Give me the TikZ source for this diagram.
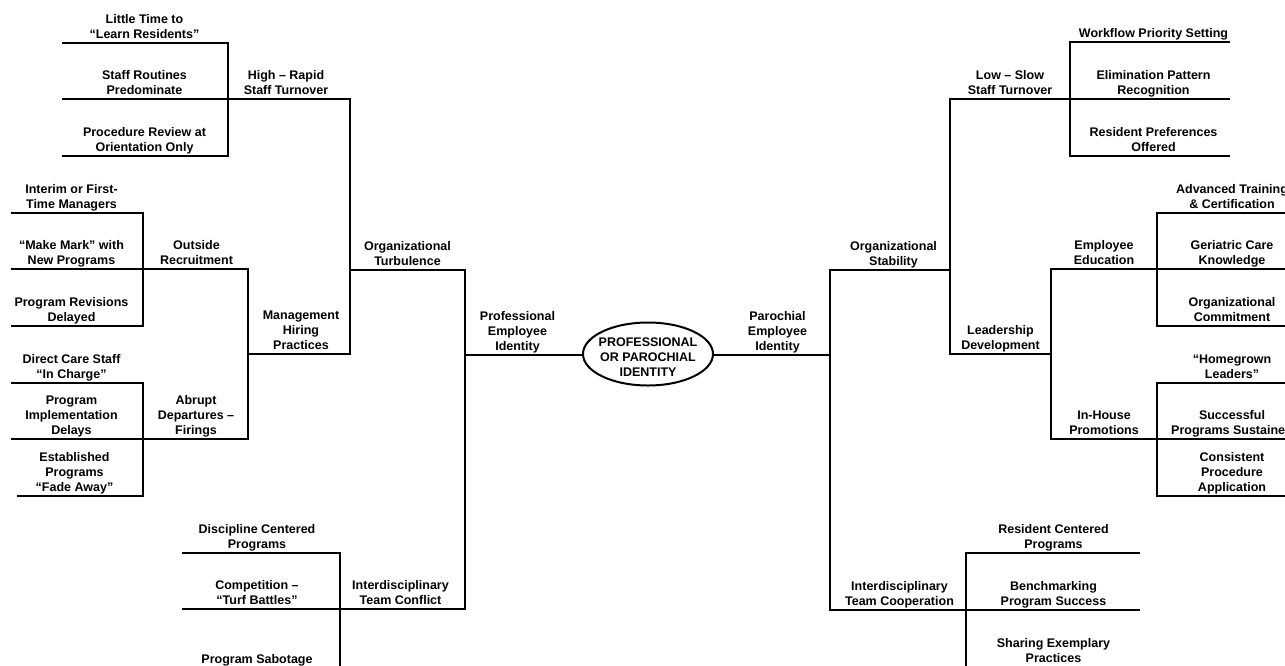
\documentclass[tikz,border=0pt]{standalone}
\usepackage{fontspec}
\setmainfont{Liberation Sans}
\usetikzlibrary{shapes.geometric}
\tikzset{
  lab/.style={anchor=south, align=center, inner xsep=0pt, inner ysep=2pt,
    text depth=2.5pt, font=\fontsize{12.5}{15}\selectfont\bfseries},
  under/.style={line width=2.8pt, draw=black},
  conn/.style={line width=2pt, draw=black},
  core/.style={draw=black, line width=2pt, ellipse, minimum width=130pt,
    minimum height=63pt, inner sep=0pt},
  coretext/.style={align=center, inner sep=0pt, yshift=-3pt,
    font=\fontsize{12.5}{15}\selectfont\bfseries}
}
\begin{document}
\begin{tikzpicture}[x=1pt,y=-1pt]
\useasboundingbox (0,0) rectangle (1285,665);
\clip (0,0) rectangle (1285,665);
\fill[white] (0,0) rectangle (1285,665);
% ---------- left side ----------
\node[lab, minimum width=165pt] (lt) at (144.5,43) {Little Time to\\“Learn Residents”};
\node[lab, minimum width=165pt] (sr) at (144.5,99) {Staff Routines\\Predominate};
\node[lab, minimum width=165pt] (pr) at (144.5,156) {Procedure Review at\\Orientation Only};
\node[lab, minimum width=112pt] (hr) at (286,99) {High – Rapid\\Staff Turnover};
\node[lab, minimum width=121pt] (im) at (71.5,213) {Interim or First-\\Time Managers};
\node[lab, minimum width=121pt] (mm) at (71.5,269) {“Make Mark” with\\New Programs};
\node[lab, minimum width=121pt] (rd) at (71.5,326) {Program Revisions\\Delayed};
\node[lab, minimum width=81pt] (orr) at (196.5,269) {Outside\\Recruitment};
\node[lab, minimum width=121pt] (dc) at (71.5,383) {Direct Care Staff\\“In Charge”};
\node[lab, minimum width=121pt] (pid) at (71.5,439) {Program\\Implementation\\Delays};
\node[lab, minimum width=115pt] (ep) at (74.5,496) {Established\\Programs\\“Fade Away”};
\node[lab, minimum width=82pt] (ad) at (196,439) {Abrupt\\Departures –\\Firings};
\node[lab, minimum width=82pt] (mh) at (301,354) {Management\\Hiring\\Practices};
\node[lab, minimum width=105pt] (ot) at (407.5,270) {Organizational\\Turbulence};
\node[lab, minimum width=81pt] (pe) at (517.5,355) {Professional\\Employee\\Identity};
\node[lab, minimum width=150pt] (dcp) at (257,553) {Discipline Centered\\Programs};
\node[lab, minimum width=150pt] (ct) at (257,609) {Competition –\\“Turf Battles”};
\node[lab, minimum width=150pt] (ps) at (257,668) {Program Sabotage};
\node[lab, minimum width=105pt] (tc) at (400.5,609) {Interdisciplinary\\Team Conflict};
% ---------- centre ----------
\node[core, label={[coretext]center:PROFESSIONAL\\OR PAROCHIAL\\IDENTITY}] (c) at (648,354) {};
% ---------- right side ----------
\node[lab, minimum width=81pt] (pa) at (777.5,355) {Parochial\\Employee\\Identity};
\node[lab, minimum width=103pt] (os) at (893.5,270) {Organizational\\Stability};
\node[lab, minimum width=104pt] (ls) at (1010,99) {Low – Slow\\Staff Turnover};
\node[lab, minimum width=153pt] (wf) at (1153.5,42) {Workflow Priority Setting};
\node[lab, minimum width=153pt] (el) at (1153.5,99) {Elimination Pattern\\Recognition};
\node[lab, minimum width=153pt] (rp) at (1153.5,156) {Resident Preferences\\Offered};
\node[lab, minimum width=83pt] (ld) at (1000.5,354) {Leadership\\Development};
\node[lab, minimum width=82pt] (ee) at (1104,269) {Employee\\Education};
\node[lab, minimum width=128pt] (at) at (1232,213) {Advanced Training\\\& Certification};
\node[lab, minimum width=128pt] (gc) at (1232,269) {Geriatric Care\\Knowledge};
\node[lab, minimum width=128pt] (oc) at (1232,326) {Organizational\\Commitment};
\node[lab, minimum width=82pt] (ih) at (1104,439) {In-House\\Promotions};
\node[lab, minimum width=128pt] (hg) at (1232,383) {“Homegrown\\Leaders”};
\node[lab, minimum width=128pt] (sp) at (1232,439) {Successful\\Programs Sustained};
\node[lab, minimum width=128pt] (cp) at (1232,496) {Consistent\\Procedure\\Application};
\node[lab, minimum width=115pt] (itc) at (899.5,610) {Interdisciplinary\\Team Cooperation};
\node[lab, minimum width=173pt] (rc) at (1053.5,553) {Resident Centered\\Programs};
\node[lab, minimum width=173pt] (bm) at (1053.5,610) {Benchmarking\\Program Success};
\node[lab, minimum width=173pt] (se) at (1053.5,667) {Sharing Exemplary\\Practices};
% ---------- underlines ----------
\foreach \n in {lt,sr,pr,hr,im,mm,rd,orr,dc,pid,ep,ad,mh,ot,pe,dcp,ct,ps,tc,
  pa,os,ls,wf,el,rp,ld,ee,at,gc,oc,ih,hg,sp,cp,itc,rc,bm,se}
  \draw[under] (\n.south west) -- (\n.south east);
% ---------- junctions ----------
\coordinate (j1) at (228,99);
\coordinate (j2) at (350,270);
\coordinate (j3) at (143,269);
\coordinate (j4) at (143,439);
\coordinate (j5) at (248,354);
\coordinate (j6) at (465,355);
\coordinate (j7) at (340,609);
\coordinate (j8) at (830,355);
\coordinate (j9) at (950,270);
\coordinate (j10) at (1070,99);
\coordinate (j11) at (1051,354);
\coordinate (j12) at (1157,269);
\coordinate (j13) at (1157,439);
\coordinate (j14) at (966,610);
% ---------- connectors ----------
\draw[conn] (lt.south east) -| (j1) |- (pr.south east);
\draw[conn] (sr.south east) -- (hr.south west);
\draw[conn] (hr.south east) -| (j2) |- (mh.south east);
\draw[conn] (j2) -- (ot.south west);
\draw[conn] (im.south east) -| (j3) |- (rd.south east);
\draw[conn] (mm.south east) -- (orr.south west);
\draw[conn] (dc.south east) -| (j4) |- (ep.south east);
\draw[conn] (pid.south east) -- (ad.south west);
\draw[conn] (orr.south east) -| (j5) |- (ad.south east);
\draw[conn] (j5) -- (mh.south west);
\draw[conn] (ot.south east) -| (j6) |- (tc.south east);
\draw[conn] (j6) -- (pe.south west);
\draw[conn] (pe.south east) -- (c.west |- pe.south east);
\draw[conn] (dcp.south east) -| (j7) |- (ps.south east);
\draw[conn] (ct.south east) -- (tc.south west);
\draw[conn] (c.east |- pa.south west) -- (pa.south west);
\draw[conn] (pa.south east) -- (j8);
\draw[conn] (os.south west) -| (j8) |- (itc.south west);
\draw[conn] (os.south east) -- (j9);
\draw[conn] (ls.south west) -| (j9) |- (ld.south west);
\draw[conn] (ls.south east) -- (el.south west);
\draw[conn] (wf.south west) -| (j10) |- (rp.south west);
\draw[conn] (ld.south east) -- (j11);
\draw[conn] (ee.south west) -| (j11) |- (ih.south west);
\draw[conn] (ee.south east) -- (gc.south west);
\draw[conn] (at.south west) -| (j12) |- (oc.south west);
\draw[conn] (ih.south east) -- (sp.south west);
\draw[conn] (hg.south west) -| (j13) |- (cp.south west);
\draw[conn] (itc.south east) -- (bm.south west);
\draw[conn] (rc.south west) -| (j14) |- (se.south west);
\end{tikzpicture}
\end{document}
